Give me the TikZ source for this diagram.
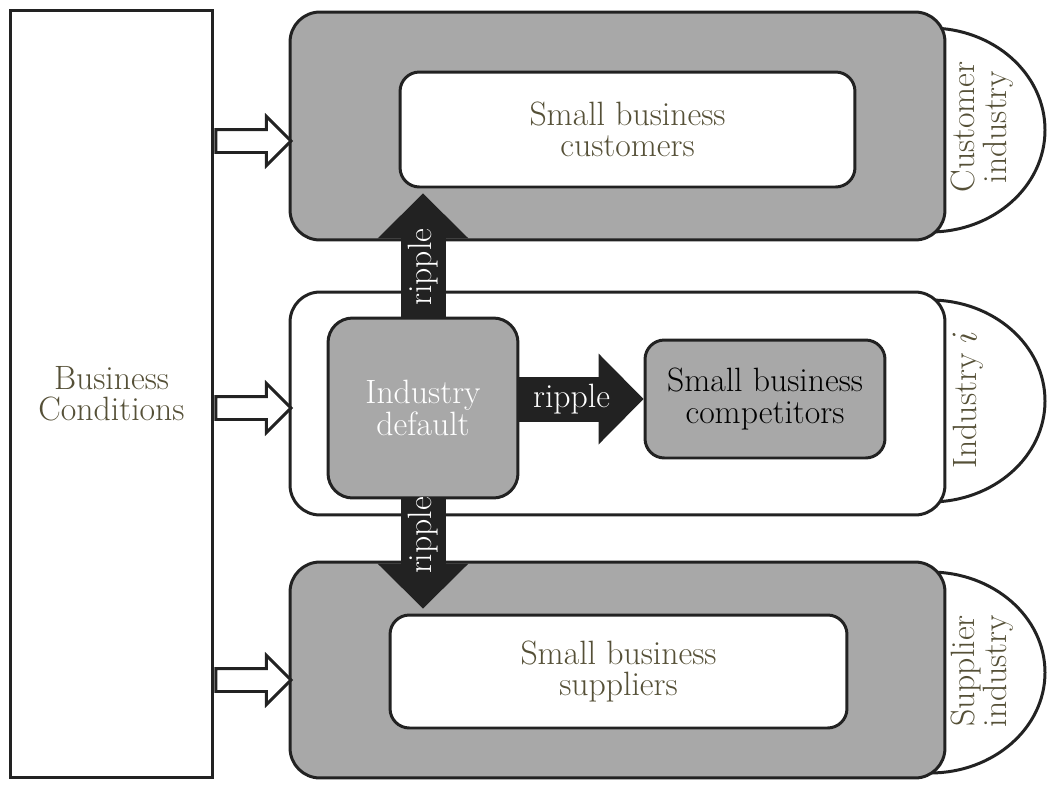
\documentclass[tikz,border=0pt]{standalone}
\usepackage{xcolor}
\definecolor{txt}{RGB}{85,80,55}
\definecolor{boxgray}{RGB}{168,168,168}
\definecolor{dark}{RGB}{34,34,34}
\usetikzlibrary{arrows.meta,shapes.arrows}

\begin{document}
\begin{tikzpicture}[x=0.02cm,y=-0.02cm,
    font=\fontsize{19.2}{17.8}\selectfont,
    box/.style={draw=dark, line width=1.7pt, align=center, text=txt, inner sep=0pt},
    band/.style={box, rounded corners=17pt, minimum width=13.1cm},
    inbox/.style={box, rounded corners=11pt},
    ripple/.style={draw=dark, line width=0.9cm,
        -{Triangle[length=0.9cm,width=1.82cm,line width=0pt]}},
    hollow/.style={single arrow, draw=dark, line width=1.7pt, fill=white,
        inner xsep=0pt, inner ysep=0.2cm, minimum width=0.92cm, minimum height=1.5cm,
        single arrow head extend=0.26cm},
    halfdisc/.style={draw=dark, line width=1.7pt, fill=white}]
    \useasboundingbox (0,0) rectangle (1048,785);

    % Left column
    \node[box, fill=white, minimum width=4.06cm, minimum height=15.36cm] (cond) at (111.5,394) {Business\\Conditions};

    % Half discs on the right, behind the bands
    \draw[halfdisc] (930,28) arc[start angle=-90, end angle=90, x radius=115, y radius=102];
    \draw[halfdisc] (930,300) arc[start angle=-90, end angle=90, x radius=115, y radius=101];
    \draw[halfdisc] (930,572) arc[start angle=-90, end angle=90, x radius=115, y radius=100.5];
    \node[rotate=90, align=center, text=txt] (custcap) at (982,127) {Customer\\industry};
    \node[rotate=90, text=txt] (indcap) at (968,400) {Industry $i$};
    \node[rotate=90, align=center, text=txt] (supcap) at (982,671) {Supplier\\industry};

    % Customer industry
    \node[band, fill=boxgray, minimum height=4.56cm] (cust) at (617.5,126) {};
    \node[inbox, fill=white, minimum width=9.1cm, minimum height=2.3cm] (custin) at (627.5,129.5) {Small business\\customers};

    % Industry i
    \node[band, fill=white, minimum height=4.46cm] (ind) at (617.5,403.5) {};
    \node[inbox, fill=boxgray, text=white, rounded corners=14pt, minimum width=3.8cm, minimum height=3.6cm] (dflt) at (423,408) {Industry\\default};
    \node[inbox, fill=boxgray, text=black, minimum width=4.8cm, minimum height=2.36cm] (comp) at (765,399) {Small business\\competitors};

    % Supplier industry
    \node[band, fill=boxgray, minimum height=4.32cm] (sup) at (617.5,670) {};
    \node[inbox, fill=white, minimum width=9.14cm, minimum height=2.26cm] (supin) at (618.5,671.5) {Small business\\suppliers};

    % Ripple arrows
    \draw[ripple] (dflt.north) -- ([yshift=-0.1cm]dflt.north |- custin.south)
        node[pos=0.4, rotate=90, text=white] (rip1) {ripple};
    \draw[ripple] (dflt.east |- comp.west) -- (comp.west)
        node[pos=0.42, text=white] (rip2) {ripple};
    \draw[ripple] (dflt.south) -- ([yshift=0.1cm]dflt.south |- supin.north)
        node[pos=0.33, rotate=90, text=white] (rip3) {ripple};

    % Business conditions arrows
    \coordinate (r1) at (0,141);
    \coordinate (r2) at (0,408);
    \coordinate (r3) at (0,680);
    \path (cond.east |- r1) -- (cust.west |- r1) node[hollow, at start, anchor=tail] (bc1) {};
    \path (cond.east |- r2) -- (ind.west |- r2) node[hollow, at start, anchor=tail] (bc2) {};
    \path (cond.east |- r3) -- (sup.west |- r3) node[hollow, at start, anchor=tail] (bc3) {};
\end{tikzpicture}
\end{document}
